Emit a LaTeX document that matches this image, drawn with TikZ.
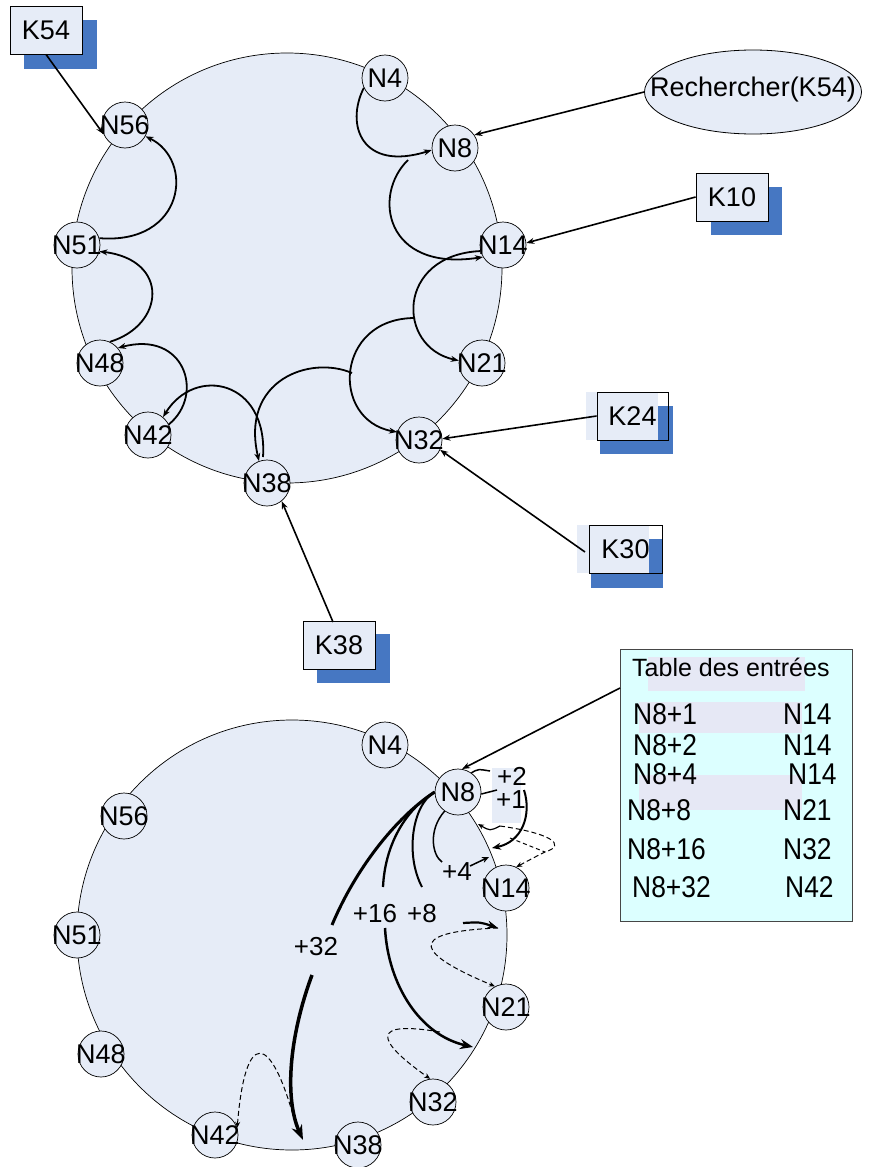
\documentclass[tikz,border=0pt]{standalone}
\usepackage{fontspec}
\setmainfont{Liberation Sans}
\usetikzlibrary{arrows.meta,shapes.geometric}
\definecolor{nfill}{RGB}{230,236,247}
\definecolor{kblue}{RGB}{70,119,194}
\definecolor{tcyan}{RGB}{220,255,255}
\definecolor{tlav}{RGB}{230,232,245}
\definecolor{tgray}{RGB}{70,70,70}
\newcommand\myfa{\fontsize{27}{32}\selectfont}
\newcommand\myfb{\fontsize{26}{30}\selectfont}
\newcommand\myfc{\fontsize{30}{34}\selectfont}
\newcommand\myfd{\fontsize{25}{29}\selectfont}
\newcommand\nar[1]{\scalebox{0.88}[1]{#1}}
\begin{document}
\begin{tikzpicture}[x=1pt,y=-1pt,
  nd/.style={circle,draw,line width=0.7pt,fill=nfill,minimum size=46pt,inner sep=0pt},
  lb/.style={font=\myfa,inner sep=0pt},
  kbox/.style={rectangle,draw,line width=0.8pt,fill=nfill,minimum width=72pt,minimum height=48pt,inner sep=0pt,font=\myfa},
  kframe/.style={rectangle,draw,line width=0.8pt,minimum width=72pt,minimum height=48pt,inner sep=0pt,font=\myfa},
  ell/.style={ellipse,draw,line width=0.8pt,fill=nfill,minimum width=217pt,minimum height=84pt,inner sep=0pt},
  sarr/.style={line width=1.6pt,-{Stealth[length=8pt,width=6pt]}},
  carr/.style={line width=1.8pt,-{Stealth[length=8pt,width=6pt]}},
  pl/.style={font=\myfb,inner sep=0pt,text depth=0pt},
  tt/.style={inner sep=0pt,anchor=west},
  dsh/.style={line width=1pt,dash pattern=on 5pt off 3pt,-{Stealth[length=6pt,width=5pt]}}
]
\useasboundingbox (0,0) rectangle (869,1167);

% ================= TOP RING =================
\draw[line width=0.7pt,fill=nfill] (287,268) circle[radius=215pt];

\node[nd,label={[lb]center:N4}]  (t4)  at (385,78)  {};
\node[nd,label={[lb]center:N8}]  (t8)  at (455,148) {};
\node[nd,label={[lb]center:N14}] (t14) at (503,245) {};
\node[nd,label={[lb]center:N21}] (t21) at (482,363) {};
\node[nd,label={[lb]center:N32}] (t32) at (419,440) {};
\node[nd,label={[lb]center:N38}] (t38) at (267,483) {};
\node[nd,label={[lb]center:N42}] (t42) at (148,435) {};
\node[nd,label={[lb]center:N48}] (t48) at (100,363) {};
\node[nd,label={[lb]center:N51}] (t51) at (77,245)  {};
\node[nd,label={[lb]center:N56}] (t56) at (125,125) {};

% key boxes with shadows
\fill[kblue] (24,20) rectangle (97,69);
\node[kbox] (k54) at (46,30) {K54};
\fill[kblue] (711,187) rectangle (782,235);
\node[kbox] (k10) at (732,197) {K10};
\fill[kblue] (317,634) rectangle (390,683);
\node[kbox] (k38) at (339,645) {K38};
\fill[kblue] (600,406) rectangle (673,454);
\fill[nfill] (586,392) rectangle (658,440);
\node[kframe,minimum width=71pt] (k24) at (632.5,416) {K24};
\fill[kblue] (591,539) rectangle (663,588);
\fill[nfill] (577,525) rectangle (649,573);
\node[kframe,minimum width=73pt] (k30) at (625.5,549) {K30};

\node[ell] (rq) at (753,92) {};
\node[lb] at (753,90) {Rechercher(K54)};

% straight arrows
\coordinate (k30s) at (585,552);
\coordinate (k38s) at (333,622);
\draw[sarr] (k54.south) -- (t56.203);
\draw[sarr] (rq.west) -- (t8.34);
\draw[sarr] (k10.west) -- (t14.5);
\draw[sarr] (k24.west) -- (t32.3);
\draw[sarr] (k30s) -- (t32.335);
\draw[sarr] (k38s) -- (t38.309);

% routing arcs
\coordinate (a2s) at (408,160);
\coordinate (a4s) at (415,318);
\coordinate (a5s) at (352,373);
\coordinate (a6s) at (263,457);
\draw[carr] (t4.205) .. controls (345,125) and (362,172) .. (t8.185);
\draw[carr] (a2s) .. controls (372,195) and (385,272) .. (t14.211);
\draw[carr] (t14.195) .. controls (396,255) and (396,347) .. (t21.174);
\draw[carr] (a4s) .. controls (335,318) and (330,420) .. (t32.160);
\draw[carr] (a5s) .. controls (310,355) and (240,380) .. (t38.110);
\draw[carr] (a6s) .. controls (268,380) and (195,365) .. (t42.50);
\draw[carr] (t42.27) .. controls (205,395) and (185,330) .. (t48.40);
\draw[carr] (t48.65) .. controls (165,325) and (170,260) .. (t51.344);
\draw[carr] (t51.17) .. controls (185,245) and (195,160) .. (t56.331);

% ================= BOTTOM RING =================
\draw[line width=0.7pt,fill=nfill] (292,935) circle[radius=215pt];

\node[nd,label={[lb]center:N4}]  (b4)  at (385,745)  {};
\node[nd,label={[lb]center:N8}]  (b8)  at (458,792)  {};
\node[nd,label={[lb]center:N14}] (b14) at (506,888)  {};
\node[nd,label={[lb]center:N21}] (b21) at (506,1007) {};
\node[nd,label={[lb]center:N32}] (b32) at (433,1102) {};
\node[nd,label={[lb]center:N38}] (b38) at (358,1145) {};
\node[nd,label={[lb]center:N42}] (b42) at (215,1135) {};
\node[nd,label={[lb]center:N48}] (b48) at (101,1054) {};
\node[nd,label={[lb]center:N51}] (b51) at (77,935)   {};
\node[nd,label={[lb]center:N56}] (b56) at (124,816)  {};

% finger table
\node[draw=tgray,fill=tcyan,line width=0.8pt,minimum width=232pt,minimum height=272pt,inner sep=0pt,anchor=north west] (tab) at (620,649) {};
\fill[tlav] (648,657) rectangle (805,691);
\fill[tlav] (639,702) rectangle (802,733);
\fill[tlav] (639,775) rectangle (802,810);
\node[tt,font=\myfd] at (632,667) {Table des entrées};
\node[tt,font=\myfc] at (633,714) {\nar{N8+1}};
\node[tt,font=\myfc] at (633,745) {\nar{N8+2}};
\node[tt,font=\myfc] at (633,774) {\nar{N8+4}};
\node[tt,font=\myfc] at (627,810) {\nar{N8+8}};
\node[tt,font=\myfc] at (627,849) {\nar{N8+16}};
\node[tt,font=\myfc] at (632,887) {\nar{N8+32}};
\node[tt,font=\myfc] at (783,714) {\nar{N14}};
\node[tt,font=\myfc] at (783,745) {\nar{N14}};
\node[tt,font=\myfc] at (788,774) {\nar{N14}};
\node[tt,font=\myfc] at (783,810) {\nar{N21}};
\node[tt,font=\myfc] at (783,849) {\nar{N32}};
\node[tt,font=\myfc] at (785,887) {\nar{N42}};

\coordinate (tabs) at (620,688);
\draw[sarr] (tabs) -- (b8.80);

% +2 / +1
\fill[nfill] (492,768) rectangle (521,823);
\draw[line width=1.5pt] (b8.55) .. controls (478,769) .. (490,771);
\node[pl] (l2) at (512,776) {+2};
\draw[line width=1.5pt] (b8.-5) .. controls (490,792) .. (497,790);
\node[pl] (l1) at (511,800) {+1};
\coordinate (p1s) at (524,790);
\coordinate (p1e) at (492,848);
\draw[line width=2pt,-{Stealth[length=9pt,width=7pt]}] (p1s) .. controls (532,815) and (522,842) .. (p1e);

% +4
\draw[line width=1.5pt] (b8.235) .. controls (428,830) and (432,855) .. (442,862);
\node[pl] (l4) at (457,872) {+4};
\coordinate (p4s) at (470,866);
\coordinate (p4e) at (489,857);
\draw[line width=1.5pt,-{Stealth[length=7pt,width=6pt]}] (p4s) -- (p4e);

% +8
\draw[line width=2pt] (b8.180) .. controls (412,805) and (405,855) .. (422,887);
\node[pl] (l8) at (422,913) {+8};
\coordinate (p8s) at (463,923);
\coordinate (p8e) at (498,928);
\draw[line width=2.2pt,-{Stealth[length=11pt,width=8pt]}] (p8s) .. controls (480,922) .. (p8e);

% +16
\draw[line width=2.3pt] (b8.180) .. controls (405,810) and (385,845) .. (383,887);
\node[pl] (l16) at (375,913) {+16};
\coordinate (p16s) at (385,928);
\coordinate (p16e) at (473,1047);
\draw[line width=2.5pt,-{Stealth[length=13pt,width=10pt]}] (p16s) .. controls (388,985) and (420,1035) .. (p16e);

% +32
\draw[line width=3pt] (b8.180) .. controls (395,818) and (355,870) .. (332,925);
\node[pl] (l32) at (316,946) {+32};
\coordinate (p32s) at (312,975);
\coordinate (p32e) at (303,1140);
\draw[line width=3.5pt,-{Stealth[length=15pt,width=11pt]}] (p32s) .. controls (288,1040) and (285,1100) .. (p32e);

% successor (dashed) hops
\coordinate (d1s) at (500,826);
\coordinate (d1m) at (545,852);
\coordinate (d0e) at (478,824);
\draw[line width=1.2pt,-{Stealth[length=6pt,width=5pt]}] (d1s) .. controls (490,831) .. (d0e);
\draw[dsh] (d1s) .. controls (550,833) and (568,845) .. (d1m) .. controls (535,857) .. (b14.64);
\coordinate (d2s) at (510,838);
\draw[line width=1pt,dash pattern=on 4pt off 3pt] (d2s) -- (d1m);
\draw[dsh] (p8e) .. controls (400,932) and (420,955) .. (b21.118);
\coordinate (d3s) at (440,1032);
\draw[dsh] (d3s) .. controls (370,1020) and (375,1040) .. (b32.97);
\coordinate (d4s) at (295,1122);
\draw[dsh] (d4s) .. controls (270,1030) and (245,1030) .. (b42.18);
\end{tikzpicture}
\end{document}
